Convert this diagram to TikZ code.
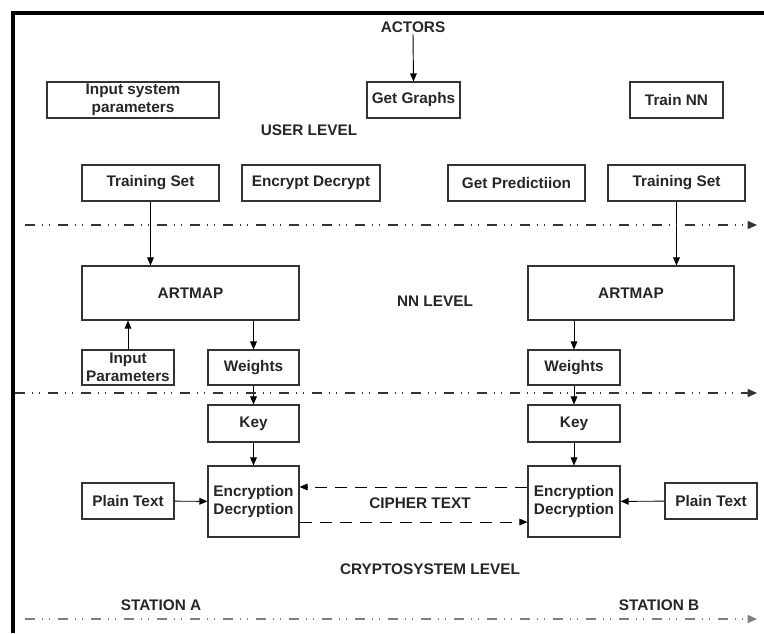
\documentclass[tikz,border=0pt]{standalone}
\usepackage{fontspec}
\setmainfont{Liberation Sans}
\usetikzlibrary{arrows.meta}

\begin{document}
\begin{tikzpicture}[x=0.75pt, y=-0.75pt,
  every node/.style={font=\fontsize{11.5}{13.5}\selectfont\bfseries, text=black!85, inner sep=1pt},
  box/.style={draw=black!80, line width=0.8pt, align=center, minimum height=27pt},
  link/.style={line width=0.7pt, -{Triangle[length=6pt, width=5pt]}},
  cipher/.style={line width=0.7pt, dash pattern=on 9pt off 6pt, -{Triangle[length=6pt, width=5pt]}},
  lvl/.style={line width=1pt, dash pattern=on 7.5pt off 5pt on 0.75pt off 5pt on 0.75pt off 5.75pt, -{Triangle[length=7pt, width=6pt]}}]
\useasboundingbox (0,0) rectangle (764,633);
% frame
\draw[line width=3pt] (13,633) -- (13,13) -- (764,13);
% user level
\node (actors) at (413,27) {ACTORS};
\node[box, minimum width=129pt] (isp) at (133,100) {Input system\\parameters};
\node[box, minimum width=69.75pt] (gg) at (413.5,100) {Get Graphs};
\node[box, minimum width=69.75pt] (tnn) at (676.5,100) {Train NN};
\node (user) at (309,130) {USER LEVEL};
\node[box, minimum width=102.75pt] (tsl) at (150.5,183) {Training Set};
\node[box, minimum width=103.5pt] (ed) at (311,183) {Encrypt Decrypt};
\node[box, minimum width=102.75pt] (gp) at (516.5,183) {Get Predictiion};
\node[box, minimum width=102.75pt] (tsr) at (676.5,183) {Training Set};
\draw[link] (actors.south) -- (gg.north);
% nn level
\node[box, minimum width=162.75pt, minimum height=40.5pt] (artl) at (190.5,293) {ARTMAP};
\node[box, minimum width=154.5pt, minimum height=40.5pt] (artr) at (631,293) {ARTMAP};
\node (nn) at (435,301) {NN LEVEL};
\node[box, minimum width=69pt, minimum height=26.25pt, inner sep=0pt] (inp) at (128,367.5) {Input\\Parameters};
\node[box, minimum width=68.25pt, minimum height=26.25pt] (wl) at (253.5,367.5) {Weights};
\node[box, minimum width=69pt, minimum height=26.25pt] (wr) at (574,367.5) {Weights};
\draw[link] (tsl.south) -- (tsl.south |- artl.north);
\draw[link] (tsr.south) -- (tsr.south |- artr.north);
\draw[link] (inp.north) -- (inp.north |- artl.south);
\draw[link] (wl.north |- artl.south) -- (wl.north);
\draw[link] (wr.north |- artr.south) -- (wr.north);
% cryptosystem level
\node[box, minimum width=68.25pt, minimum height=27.75pt] (keyl) at (253.5,423.5) {Key};
\node[box, minimum width=69pt, minimum height=27.75pt] (keyr) at (574,423.5) {Key};
\node[box, minimum width=68.25pt, minimum height=53.25pt, inner sep=0pt] (encl) at (253.5,501.5) {Encryption\\Decryption};
\node[box, minimum width=69pt, minimum height=53.25pt, inner sep=0pt] (encr) at (574,501.5) {Encryption\\Decryption};
\node[box, minimum width=69pt] (ptl) at (128,501) {Plain Text};
\node[box, minimum width=69pt] (ptr) at (711,501) {Plain Text};
\node (ct) at (420,503) {CIPHER TEXT};
\node (crypto) at (430,569) {CRYPTOSYSTEM LEVEL};
\node (sta) at (161,605) {STATION A};
\node (stb) at (659,605) {STATION B};
\draw[link] (wl) -- (keyl);
\draw[link] (wr) -- (keyr);
\draw[link] (keyl) -- (encl);
\draw[link] (keyr) -- (encr);
\draw[link] (ptl) -- (encl);
\draw[link] (ptr) -- (encr);
\draw[cipher] ([yshift=10.9pt]encr.west) -- ([yshift=10.9pt]encl.east);
\draw[cipher] ([yshift=-15.4pt]encl.east) -- ([yshift=-15.4pt]encr.west);
% level separators
\coordinate (l1a) at (25,225);  \coordinate (l1b) at (757,225);
\coordinate (l2a) at (15,393);  \coordinate (l2b) at (757,393);
\coordinate (l3a) at (25,619);  \coordinate (l3b) at (757,619);
\draw[lvl, draw=black!80] (l1a) -- (l1b);
\draw[lvl, draw=black!80] (l2a) -- (l2b);
\draw[lvl, draw=black!50] (l3a) -- (l3b);
\end{tikzpicture}
\end{document}
